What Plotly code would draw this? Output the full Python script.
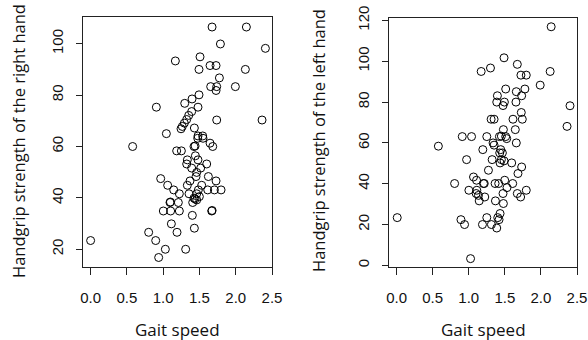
import plotly.graph_objects as go

# Left panel: gait speed vs handgrip strength of the right hand
right_speed = [1.674, 2.147, 1.789, 2.409, 1.168, 1.508, 1.494, 1.646, 1.729, 2.133,
               1.775, 1.655, 1.738, 1.729, 1.995, 1.494, 1.398, 1.297, 0.906, 1.480,
               1.393, 1.352, 1.324, 1.292, 1.264, 1.246, 1.738, 2.363, 1.430, 1.044,
               1.480, 1.545, 0.579, 1.476, 1.549, 1.646, 1.683, 1.425, 1.440, 1.186,
               1.251, 1.444, 1.333, 1.480, 1.324, 1.600, 1.393, 1.517, 1.462, 1.453,
               0.966, 1.623, 1.370, 1.729, 1.062, 1.333, 1.531, 1.145, 1.485, 1.614,
               1.706, 1.798, 1.223, 1.356, 1.462, 1.499, 1.425, 1.440, 1.462, 1.094,
               1.100, 1.209, 1.407, 1.002, 1.103, 1.223, 1.669, 1.675, 1.402, 1.113,
               1.430, 1.191, 0.800, 0.897, 0.000, 1.030, 1.310, 0.938]
right_grip = [106.5, 106.5, 99.9, 98.2, 93.3, 94.9, 90.0, 91.5, 91.5, 90.0,
              86.7, 83.3, 83.3, 81.8, 83.3, 80.1, 78.5, 76.8, 75.3, 75.3,
              73.6, 72.1, 70.5, 69.1, 67.8, 66.9, 70.3, 70.3, 67.2, 65.0,
              64.1, 64.1, 60.0, 63.2, 63.2, 61.3, 60.0, 60.0, 60.2, 58.3,
              58.3, 56.4, 54.8, 54.8, 53.2, 53.2, 51.6, 51.6, 49.9, 48.3,
              47.5, 48.3, 46.6, 46.6, 44.9, 44.9, 44.9, 43.1, 43.1, 43.1,
              43.1, 43.1, 41.6, 41.6, 41.6, 40.5, 39.9, 39.6, 39.2, 38.2,
              38.4, 38.2, 38.2, 34.9, 34.9, 34.9, 34.9, 35.1, 33.2, 29.9,
              28.2, 26.6, 26.6, 23.4, 23.4, 20.0, 20.0, 16.8]

# Right panel: gait speed vs handgrip strength of the left hand
left_speed = [2.142, 1.489, 1.673, 1.301, 1.172, 2.128, 1.723, 1.797, 1.990, 1.512,
              1.778, 1.659, 1.733, 1.397, 1.388, 1.494, 1.475, 1.654, 2.403, 1.728,
              1.310, 1.351, 1.613, 1.742, 2.362, 1.480, 1.645, 0.910, 1.039, 1.250,
              1.425, 1.512, 1.526, 1.337, 1.351, 1.452, 1.659, 0.579, 1.195, 1.443,
              1.429, 1.466, 0.970, 1.324, 1.452, 1.489, 1.434, 1.595, 1.733, 1.273,
              1.682, 1.066, 1.108, 1.498, 0.804, 1.204, 1.215, 1.365, 1.415, 1.609,
              1.530, 1.002, 1.112, 1.797, 1.103, 1.475, 1.673, 1.135, 1.222, 1.719,
              1.145, 1.370, 1.480, 0.009, 0.892, 1.250, 1.402, 1.434, 1.420, 0.942,
              1.190, 1.314, 1.388, 1.025]
left_grip = [116.9, 101.7, 98.5, 96.7, 95.0, 95.0, 93.2, 93.2, 88.3, 86.4,
             86.4, 85.1, 83.1, 83.1, 80.0, 80.0, 78.3, 80.0, 78.2, 74.9,
             71.6, 71.6, 71.6, 71.6, 68.1, 66.5, 66.5, 63.1, 63.1, 63.1,
             63.1, 63.1, 62.1, 60.0, 58.9, 63.3, 60.0, 58.4, 56.7, 56.7,
             55.1, 55.1, 51.8, 51.8, 51.8, 51.2, 50.2, 50.2, 48.2, 46.6,
             45.0, 43.3, 41.7, 41.7, 40.1, 40.1, 40.1, 40.1, 40.1, 40.1,
             38.1, 36.8, 36.8, 36.8, 35.2, 35.2, 35.2, 34.3, 33.5, 33.5,
             31.6, 31.6, 30.3, 23.4, 22.4, 23.4, 23.4, 25.4, 22.4, 20.0,
             20.0, 20.0, 18.3, 3.3]

x_ticks = [0.0, 0.5, 1.0, 1.5, 2.0, 2.5]
x_tick_text = ["0.0", "0.5", "1.0", "1.5", "2.0", "2.5"]
left_y_ticks = [20, 40, 60, 80, 100]
right_y_ticks = [0, 20, 40, 60, 80, 100, 120]
x_title = "Gait speed"
left_y_title = "Handgrip strength of the right hand"
right_y_title = "Handgrip strength of the left hand"

marker = dict(symbol="circle-open", size=8, color="black", line=dict(width=1, color="black"))

fig = go.Figure()
fig.add_trace(go.Scatter(x=right_speed, y=right_grip, mode="markers", marker=marker,
                         xaxis="x", yaxis="y", showlegend=False, cliponaxis=False))
fig.add_trace(go.Scatter(x=left_speed, y=left_grip, mode="markers", marker=marker,
                         xaxis="x2", yaxis="y2", showlegend=False, cliponaxis=False))

tick_font = dict(family="Liberation Sans, Arial, sans-serif", size=15, color="#111")
common_x = dict(tickvals=x_ticks, ticktext=x_tick_text, showgrid=False, zeroline=False,
                showline=True, mirror=True, linecolor="#222", linewidth=1,
                ticks="outside", ticklen=7, tickcolor="#222", tickfont=tick_font,
                ticklabelstandoff=10, range=[-0.105, 2.5], automargin=False)
common_y = dict(showgrid=False, zeroline=False, showline=True, mirror=True,
                linecolor="#222", linewidth=1, ticks="outside", ticklen=6,
                tickcolor="#222", tickfont=tick_font, tickangle=-90,
                ticklabelstandoff=7, automargin=False)

fig.update_layout(
    width=588, height=340,
    margin=dict(l=0, r=0, t=0, b=0),
    paper_bgcolor="white", plot_bgcolor="white",
    xaxis=dict(domain=[83/588, 272/588], anchor="y", **common_x),
    yaxis=dict(domain=[1-267/340, 1-17/340], anchor="x", tickvals=left_y_ticks,
               range=[13.1, 110.4], **common_y),
    xaxis2=dict(domain=[389/588, 577/588], anchor="y2", **common_x),
    yaxis2=dict(domain=[1-267/340, 1-18/340], anchor="x2", tickvals=right_y_ticks,
                range=[-0.8, 121.2], **common_y),
)

x_title_font = dict(family="Open Sans, sans-serif", size=17, color="#111")
y_title_font = dict(family="Open Sans, sans-serif", size=16.5, color="#111")
fig.add_annotation(text=x_title, xref="paper", yref="paper", x=(83+272)/2/588, y=1-329/340,
                   showarrow=False, font=x_title_font, xanchor="center", yanchor="middle")
fig.add_annotation(text=x_title, xref="paper", yref="paper", x=(389+577)/2/588, y=1-329/340,
                   showarrow=False, font=x_title_font, xanchor="center", yanchor="middle")
fig.add_annotation(text=left_y_title, xref="paper", yref="paper", x=18/588, y=1-141/340,
                   showarrow=False, font=y_title_font, textangle=-90, xanchor="center", yanchor="middle")
fig.add_annotation(text=right_y_title, xref="paper", yref="paper", x=318/588, y=1-141/340,
                   showarrow=False, font=y_title_font, textangle=-90, xanchor="center", yanchor="middle")

fig.write_html("out.html", config={"displayModeBar": False},
               post_script="document.body.style.margin='0';document.body.style.padding='0';")
